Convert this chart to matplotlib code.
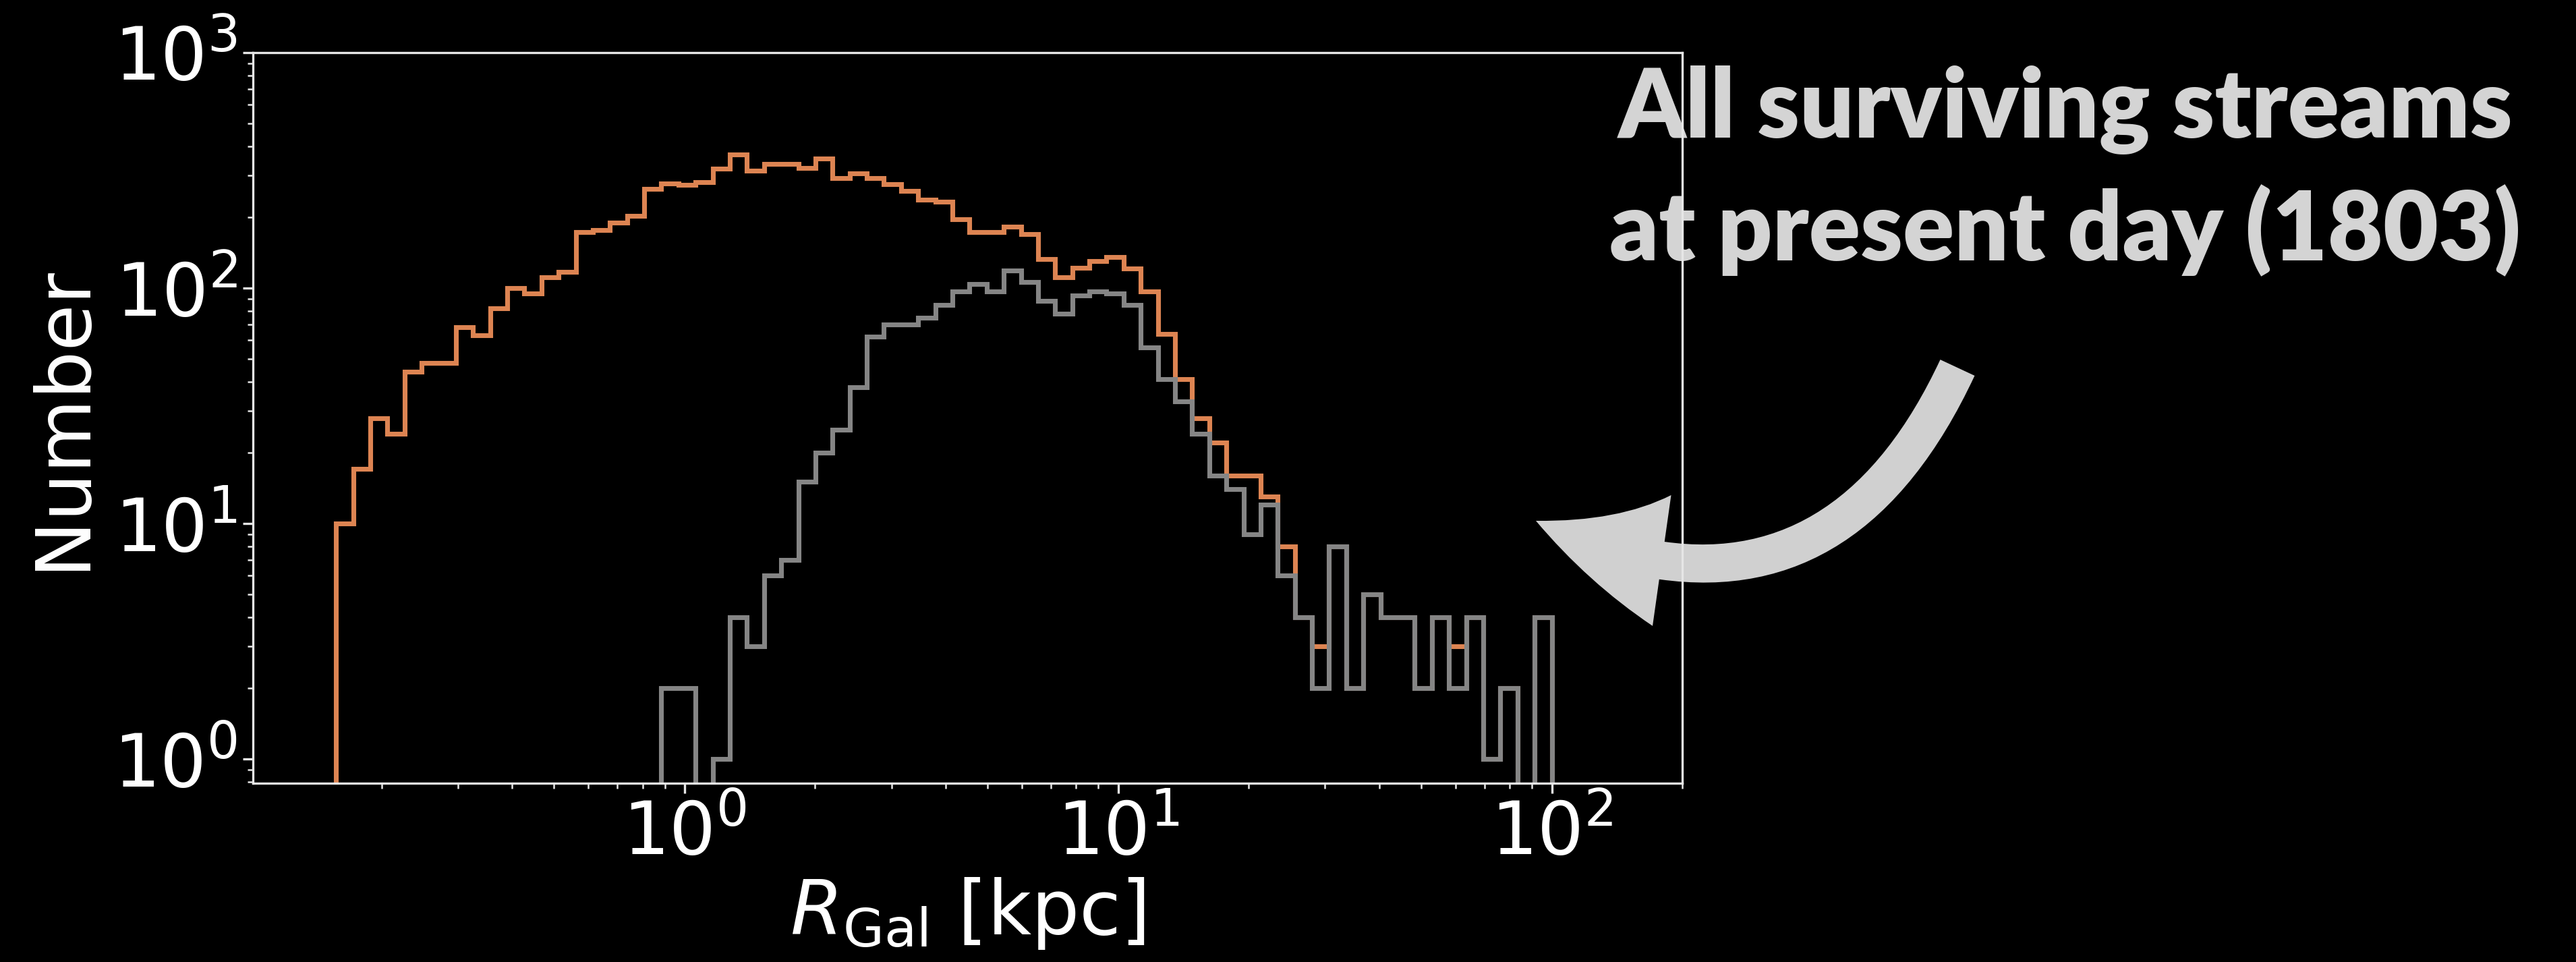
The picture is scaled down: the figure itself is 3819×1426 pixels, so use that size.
import numpy as np
import matplotlib
matplotlib.use("Agg")
import matplotlib.pyplot as plt
from matplotlib.patches import FancyArrowPatch

# Log-spaced galactocentric radius bins [kpc]
r_min_kpc = 0.157
r_max_kpc = 100.0
n_bins = 71

# Counts per radial bin: all surviving streams
all_counts = [
    10, 17, 28, 24, 44, 48, 48, 68, 63, 82,
    100, 95, 111, 117, 173, 176, 189, 202, 264, 278,
    274, 282, 321, 368, 315, 337, 337, 324, 355, 293,
    307, 293, 277, 259, 237, 233, 196, 173, 173, 182,
    169, 133, 111, 122, 130, 135, 121, 97, 64, 41,
    28, 22, 16, 16, 13, 8, 4, 3, 8, 2,
    5, 4, 4, 2, 4, 3, 4, 1, 2, 0,
    4,
]

# Counts per radial bin: subset shown in grey
sub_counts = [
    0, 0, 0, 0, 0, 0, 0, 0, 0, 0,
    0, 0, 0, 0, 0, 0, 0, 0, 0, 2,
    2, 0, 1, 4, 3, 6, 7, 15, 20, 25,
    38, 62, 70, 70, 75, 85, 97, 104, 97, 119,
    106, 88, 78, 93, 97, 95, 85, 56, 41, 33,
    24, 16, 14, 9, 12, 6, 4, 2, 8, 2,
    5, 4, 4, 2, 4, 2, 4, 1, 2, 0,
    4,
]

caption_lines = ["All surviving streams", "at present day (1803)"]

edges = np.logspace(np.log10(r_min_kpc), np.log10(r_max_kpc), n_bins + 1)
centers = np.sqrt(edges[:-1] * edges[1:])

W, H, DPI = 3819, 1426, 300
fig = plt.figure(figsize=(W / DPI, H / DPI), dpi=DPI, facecolor="black")
ax = fig.add_axes([375 / W, 1 - 1160.5 / H, (2494 - 375) / W, (1160.5 - 78) / H])
ax.set_facecolor("black")

ax.hist(centers, bins=edges, weights=all_counts, histtype="step",
        color="#dd8452", lw=1.7, log=True)
ax.hist(centers, bins=edges, weights=sub_counts, histtype="step",
        color="#858585", lw=1.7, log=True)

ax.set_xscale("log")
ax.set_xlim(0.101, 200)
ax.set_ylim(0.79, 1000)

edge_col = "#e6e6e6"
for sp in ax.spines.values():
    sp.set_color(edge_col)
    sp.set_linewidth(0.8)
ax.tick_params(which="both", colors=edge_col, labelcolor="white", labelsize=26)
ax.tick_params(which="major", pad=2)

ax.set_xlabel(r"$R_{\rm Gal}$ [kpc]", fontsize=27, color="white", labelpad=2)
ax.set_ylabel("Number", fontsize=27, color="white", labelpad=5)

# Caption and curved pointer, kept underneath the spines
text_col = "#d4d4d4"
for line, yb in zip(caption_lines, [204, 386]):
    ax.text(3062 / W, 1 - yb / H, line, transform=fig.transFigure,
            ha="center", va="baseline", fontsize=34, fontweight="heavy",
            family="Lato", color=text_col, zorder=2.2, clip_on=False)

arrow = FancyArrowPatch(
    (2902 / W, 1 - 545 / H), (2277 / W, 1 - 772 / H),
    transform=fig.transFigure,
    connectionstyle="arc3,rad=-0.5",
    arrowstyle="simple,head_length=4.7,head_width=4.7,tail_width=1.35",
    mutation_scale=10, shrinkA=0, shrinkB=0,
    color="#d0d0d0", lw=0, zorder=2.1, clip_on=False,
)
ax.add_patch(arrow)

fig.savefig("out.png", dpi=DPI, facecolor="black")
